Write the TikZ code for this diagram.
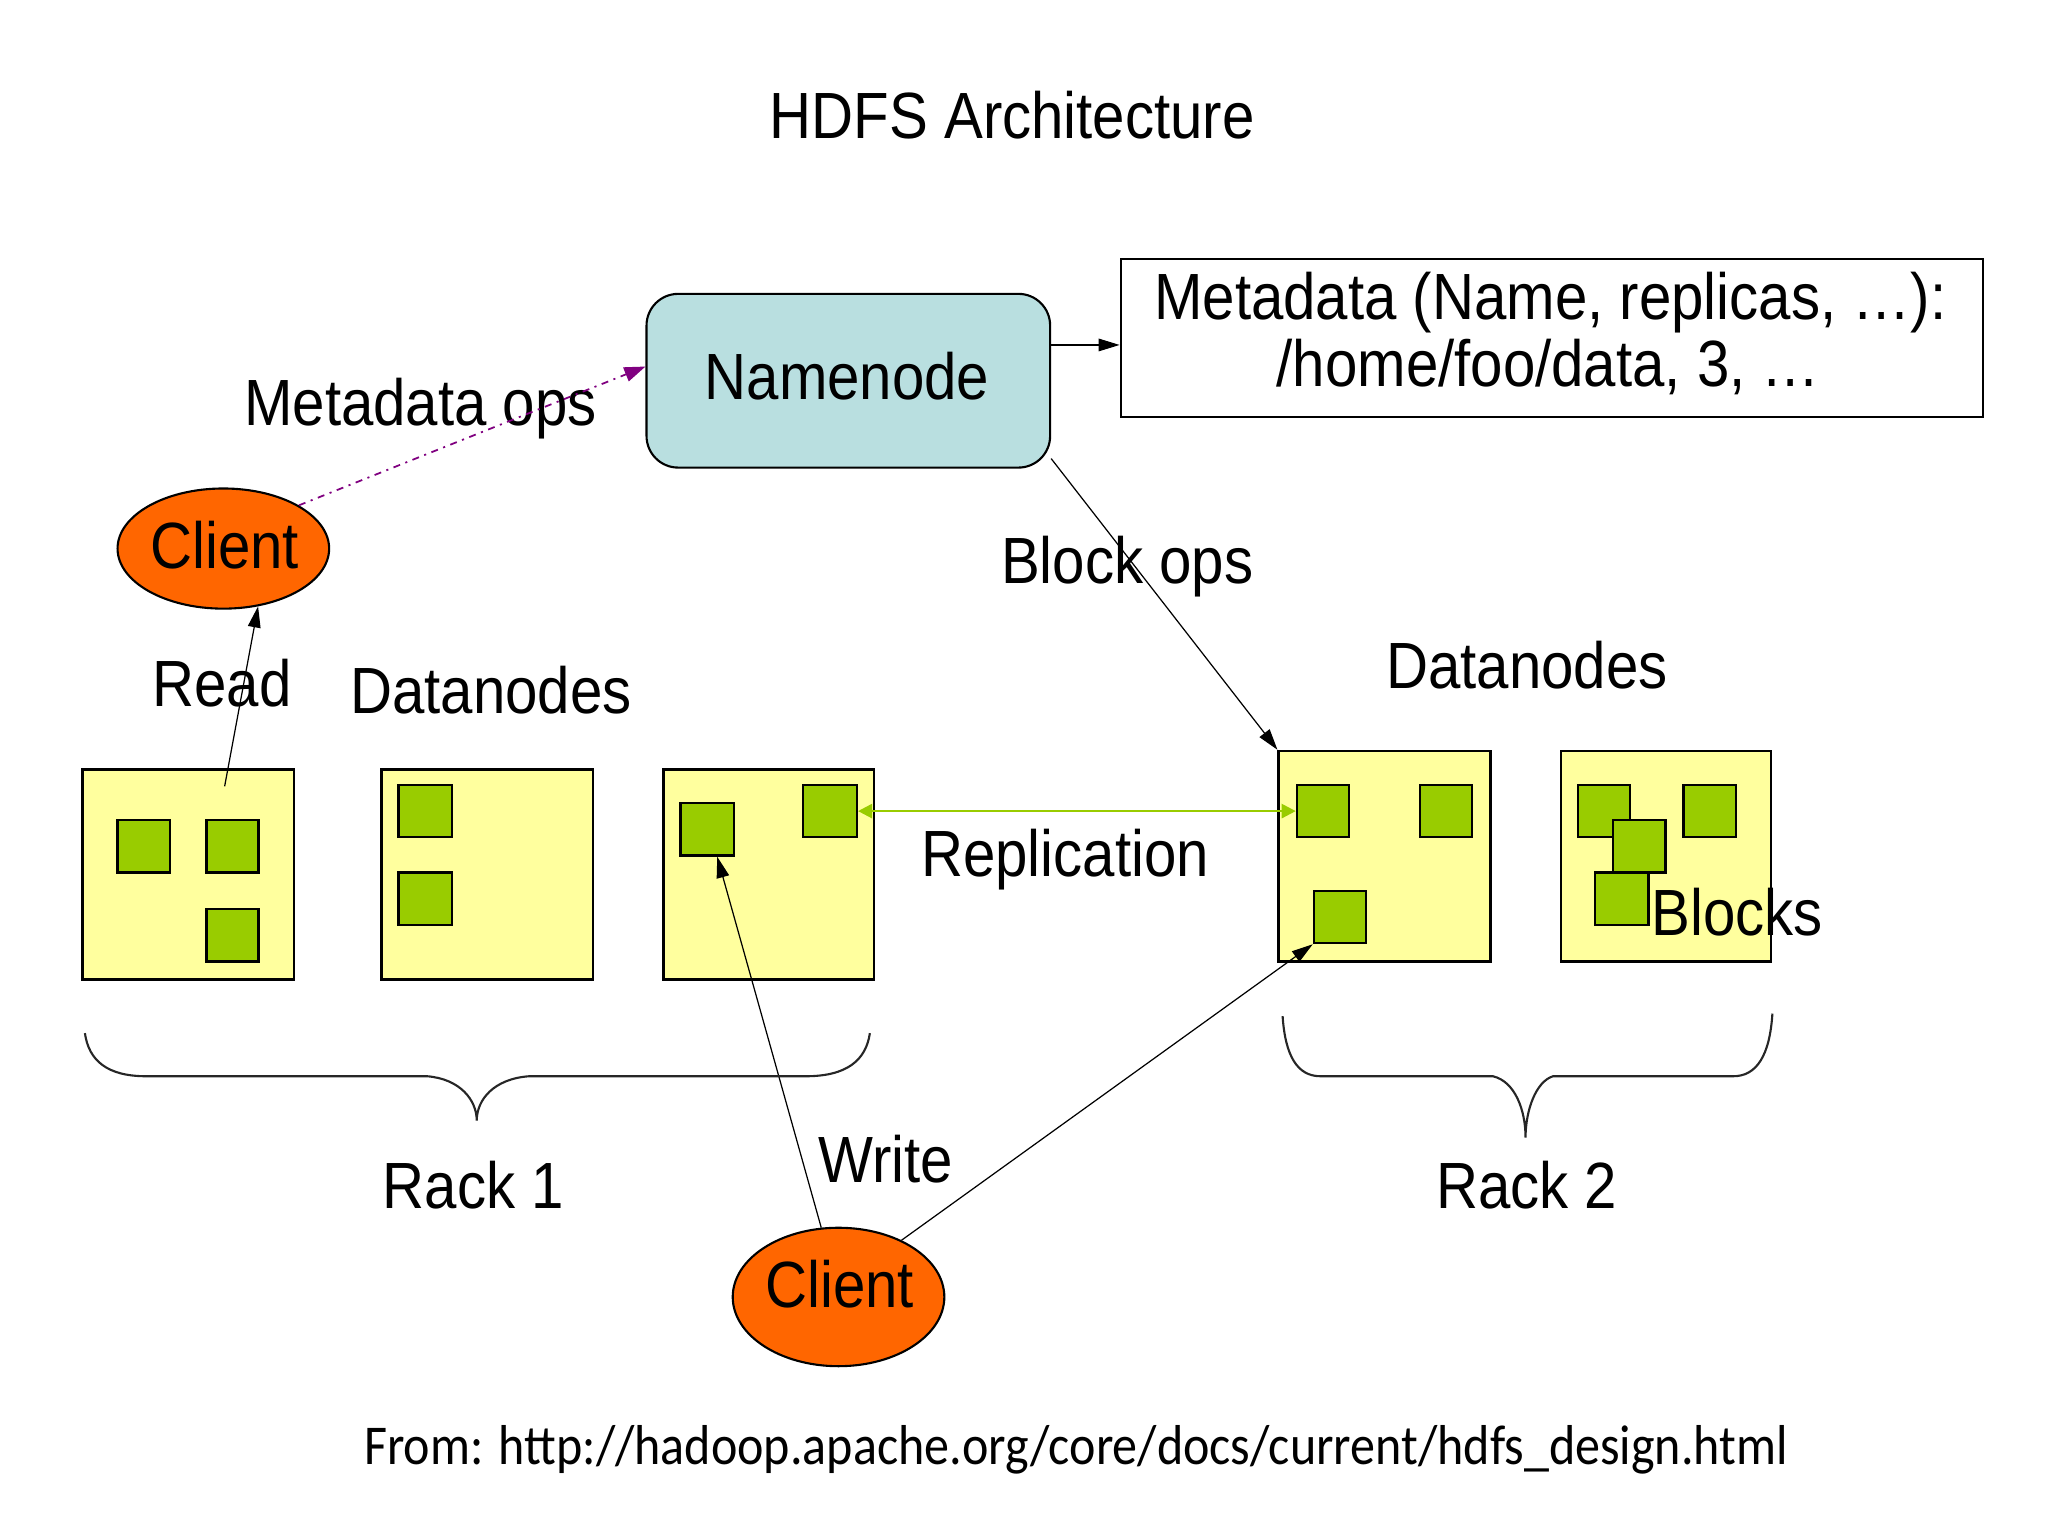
\documentclass[tikz,border=0pt]{standalone}
\usepackage{fontspec}
\setmainfont[FakeStretch=0.89]{Liberation Sans}
\newfontfamily\fromfont[FakeStretch=0.89]{Carlito}
\usetikzlibrary{fit,shapes.geometric,arrows.meta}
\definecolor{nnblue}{HTML}{B9DFE0}
\definecolor{dnyellow}{HTML}{FFFF9E}
\definecolor{blkgreen}{HTML}{99CC00}
\definecolor{clorange}{HTML}{FF6600}
\definecolor{mdpurple}{HTML}{800080}
\tikzset{
  lbl/.style={anchor=base, inner sep=0pt, font=\fontsize{18.6}{22}\selectfont},
  nnbox/.style={draw, fill=nnblue, rounded corners=9pt, inner sep=0pt, line width=0.6pt},
  mdbox/.style={draw, fill=white, inner sep=0pt, line width=0.6pt},
  dnbox/.style={draw, fill=dnyellow, inner sep=0pt, line width=0.7pt},
  blk/.style={draw, fill=blkgreen, inner sep=0pt, line width=0.7pt},
  clnode/.style={draw, ellipse, fill=clorange, inner sep=0pt, line width=0.6pt},
  arr/.style={line width=0.35pt, -{Triangle[length=6pt,width=3.6pt]}},
  metaarr/.style={mdpurple, line width=0.5pt, dash pattern=on 2pt off 1.6pt on 0.6pt off 1.6pt, -{Triangle[length=6pt,width=4.2pt]}},
  reparr/.style={blkgreen, line width=0.7pt, {Triangle[length=4pt,width=4pt]}-{Triangle[length=4pt,width=4pt]}},
  brace/.style={line width=0.6pt, black!85}
}
\begin{document}
\begin{tikzpicture}[x=0.013061cm, y=-0.013061cm]
\useasboundingbox[fill=white] (0,0) rectangle (1568,1176);

% title
\node[lbl, font=\fontsize{18.6}{22}\selectfont] (title) at (775,106) {HDFS Architecture};

% namenode and metadata
\node[nnbox, fit={(495,225) (804,358)}] (nn) {};
\node[lbl] (nnt) at (648.5,306) {Namenode};
\node[mdbox, fit={(858,198) (1518,319)}] (md) {};
\node[lbl] (md1) at (1187,245) {Metadata (Name, replicas, …):};
\node[lbl] (md2) at (1185.5,296) {/home/foo/data, 3, …};

% clients
\node[clnode, minimum width=2.116cm, minimum height=1.2016cm] (c1) at (171,420) {};
\node[lbl] (c1t) at (172,435) {Client};
\node[clnode, minimum width=2.116cm, minimum height=1.3845cm] (c2) at (642,993) {};
\node[lbl] (c2t) at (643,1001) {Client};

% datanodes rack 1
\node[dnbox, fit={(63,589) (225,750)}] (d1) {};
\node[dnbox, fit={(292,589) (454,750)}] (d2) {};
\node[dnbox, fit={(508,589) (669,750)}] (d3) {};
% datanodes rack 2
\node[dnbox, fit={(979,575) (1141,736)}] (d4) {};
\node[dnbox, fit={(1195,575) (1356,736)}] (d5) {};

% blocks
\node[blk, fit={(90,628) (130,668)}] (b1a) {};
\node[blk, fit={(158,628) (198,668)}] (b1b) {};
\node[blk, fit={(158,696) (198,736)}] (b1c) {};
\node[blk, fit={(305,601) (346,641)}] (b2a) {};
\node[blk, fit={(305,668) (346,708)}] (b2b) {};
\node[blk, fit={(521,615) (562,655)}] (b3a) {};
\node[blk, fit={(615,601) (656,641)}] (b3b) {};
\node[blk, fit={(993,601) (1033,641)}] (b4a) {};
\node[blk, fit={(1087,601) (1127,641)}] (b4b) {};
\node[blk, fit={(1006,682) (1046,722)}] (b4c) {};
\node[blk, fit={(1208,601) (1248,641)}] (b5a) {};
\node[blk, fit={(1289,601) (1329,641)}] (b5b) {};
\node[blk, fit={(1235,628) (1275,668)}] (b5c) {};
\node[blk, fit={(1221,668) (1262,708)}] (b5d) {};

% labels
\node[lbl] (lmeta) at (322,325.5) {Metadata ops};
\node[lbl] (lread) at (170,541) {Read};
\node[lbl] (ldn1) at (376,546) {Datanodes};
\node[lbl] (lblk) at (863,446.5) {Block ops};
\node[lbl] (ldn2) at (1169,527.5) {Datanodes};
\node[lbl] (lrep) at (815.5,671) {Replication};
\node[lbl] (lblocks) at (1330,716) {Blocks};
\node[lbl] (lrack1) at (362.5,925) {Rack 1};
\node[lbl] (lrack2) at (1169,925) {Rack 2};
\node[lbl] (lwrite) at (678,905) {Write};

% connectors
\draw[arr] (nn.10) -- (nn.10 -| md.west);
\draw[metaarr] (c1.north east) -- (nn.176);
\draw[arr] (nn.-21) -- (d4.north west);
\coordinate (rdstart) at (172,602);
\draw[arr] (rdstart) -- (c1.-59);
\draw[arr] (c2.104) -- (b3a.-70);
\draw[arr] (c2.42) -- (b4c.south west);
\draw[reparr] (b3b.east) -- (b4a.west);

% braces
\draw[brace] (65,791) .. controls (68,812) and (82,824) .. (112,824) -- (327,824)
  .. controls (352,826) and (365,842) .. (365,858)
  .. controls (365,842) and (378,826) .. (405,824) -- (617,824)
  .. controls (648,824) and (663,812) .. (666,791);
\draw[brace] (982,778) .. controls (984,808) and (993,824) .. (1011,824) -- (1143,824)
  .. controls (1160,828) and (1168,850) .. (1168,871)
  .. controls (1168,850) and (1176,828) .. (1189,824) -- (1327,824)
  .. controls (1345,824) and (1355,808) .. (1357,776);

% source
\node[lbl, font=\fromfont\fontsize{16}{19}\selectfont] (src) at (824,1121) {From: http://hadoop.apache.org/core/docs/current/hdfs\_design.html};
\end{tikzpicture}
\end{document}
